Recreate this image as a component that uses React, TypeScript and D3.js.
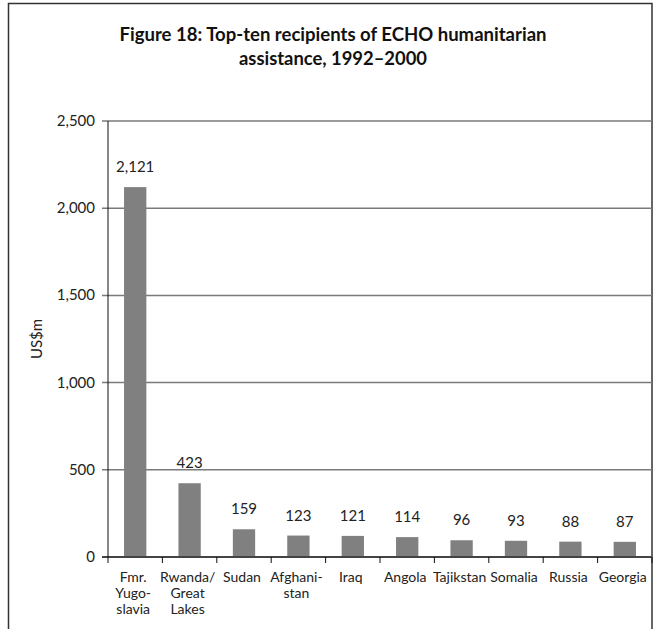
import React, { useEffect, useRef } from 'react';
import * as d3 from 'd3';

const categories = [
  ['Fmr.', 'Yugo-', 'slavia'],
  ['Rwanda/', 'Great', 'Lakes'],
  ['Sudan'],
  ['Afghani-', 'stan'],
  ['Iraq'],
  ['Angola'],
  ['Tajikstan'],
  ['Somalia'],
  ['Russia'],
  ['Georgia'],
];
const values = [2121, 423, 159, 123, 121, 114, 96, 93, 88, 87];
const yTicks = [0, 500, 1000, 1500, 2000, 2500];
const titleLines = ['Figure 18: Top-ten recipients of ECHO humanitarian', 'assistance, 1992\u20132000'];

export default function App() {
  const svgRef = useRef<SVGSVGElement>(null);

  useEffect(() => {
    if (!svgRef.current) return;
    const svg = d3.select(svgRef.current);
    svg.selectAll('*').remove();

    const width = 661;
    const height = 629;
    const margin = { top: 121, right: 9, bottom: 72, left: 108 };
    const innerW = width - margin.left - margin.right;
    const innerH = height - margin.top - margin.bottom;
    const font = 'Lato, "Open Sans", sans-serif';

    // frame
    svg.append('rect')
      .attr('x', 8.5).attr('y', 3.5)
      .attr('width', 643.5).attr('height', 660)
      .attr('fill', 'none')
      .attr('stroke', '#333')
      .attr('stroke-width', 1.5);

    // title
    titleLines.forEach((t, i) => {
      svg.append('text')
        .attr('x', 333)
        .attr('y', 41 + i * 24)
        .attr('text-anchor', 'middle')
        .attr('font-family', font)
        .attr('font-weight', 'bold')
        .attr('font-size', 19)
        .attr('fill', '#111')
        .attr('textLength', i === 0 ? 427 : 188)
        .attr('lengthAdjust', 'spacingAndGlyphs')
        .text(t);
    });

    const g = svg.append('g').attr('transform', `translate(${margin.left},${margin.top})`);

    const x = d3.scaleBand<number>()
      .domain(d3.range(values.length))
      .range([0, innerW])
      .paddingInner(0.59)
      .paddingOuter(0.295);
    const xb = d3.scaleBand<number>().domain(d3.range(values.length)).range([0, innerW]);

    const y = d3.scaleLinear().domain([0, 2500]).range([innerH, 0]);

    // gridlines
    g.selectAll('.grid')
      .data(yTicks)
      .enter()
      .append('line')
      .attr('x1', -6)
      .attr('x2', innerW)
      .attr('y1', d => y(d))
      .attr('y2', d => y(d))
      .attr('stroke', d => (d === 0 ? '#444' : '#7a7a7a'))
      .attr('stroke-width', d => (d === 0 ? 2 : 1.5));

    // y axis line
    g.append('line')
      .attr('x1', 0).attr('x2', 0)
      .attr('y1', 0).attr('y2', innerH + 6)
      .attr('stroke', '#111')
      .attr('stroke-width', 1);

    // y tick labels
    g.selectAll('.ylab')
      .data(yTicks)
      .enter()
      .append('text')
      .attr('x', -13)
      .attr('y', d => y(d) + 5)
      .attr('text-anchor', 'end')
      .attr('font-family', font)
      .attr('font-size', 15)
      .attr('fill', '#222')
      .text(d => d3.format(',')(d));

    // x ticks
    g.selectAll('.xtick')
      .data(d3.range(1, values.length + 1))
      .enter()
      .append('line')
      .attr('x1', d => d * xb.bandwidth())
      .attr('x2', d => d * xb.bandwidth())
      .attr('y1', innerH)
      .attr('y2', innerH + 6)
      .attr('stroke', '#111')
      .attr('stroke-width', 1);

    // bars
    g.selectAll('.bar')
      .data(values)
      .enter()
      .append('rect')
      .attr('x', (_, i) => x(i) || 0)
      .attr('width', x.bandwidth())
      .attr('y', d => y(d))
      .attr('height', d => innerH - y(d) - 1)
      .attr('fill', '#808080');

    // value labels
    g.selectAll('.val')
      .data(values)
      .enter()
      .append('text')
      .attr('x', (_, i) => (xb(i) || 0) + xb.bandwidth() / 2)
      .attr('y', d => y(d) - 15)
      .attr('text-anchor', 'middle')
      .attr('font-family', font)
      .attr('font-size', 15)
      .attr('fill', '#222')
      .text(d => d3.format(',')(d));

    // category labels
    categories.forEach((lines, i) => {
      const t = g.append('text')
        .attr('text-anchor', 'middle')
        .attr('font-family', font)
        .attr('font-size', 14)
        .attr('fill', '#222');
      lines.forEach((l, j) => {
        t.append('tspan')
          .attr('x', (xb(i) || 0) + xb.bandwidth() / 2 - 2)
          .attr('y', innerH + 25 + j * 16)
          .text(l);
      });
    });

    // y axis title
    svg.append('text')
      .attr('transform', `translate(42,${margin.top + innerH / 2}) rotate(-90)`)
      .attr('text-anchor', 'middle')
      .attr('font-family', font)
      .attr('font-size', 15)
      .attr('fill', '#222')
      .text('US$m');
  }, []);

  return (
    <svg
      ref={svgRef}
      width={661}
      height={629}
      style={{ position: 'absolute', left: 0, top: 0, background: '#fff' }}
    />
  );
}
